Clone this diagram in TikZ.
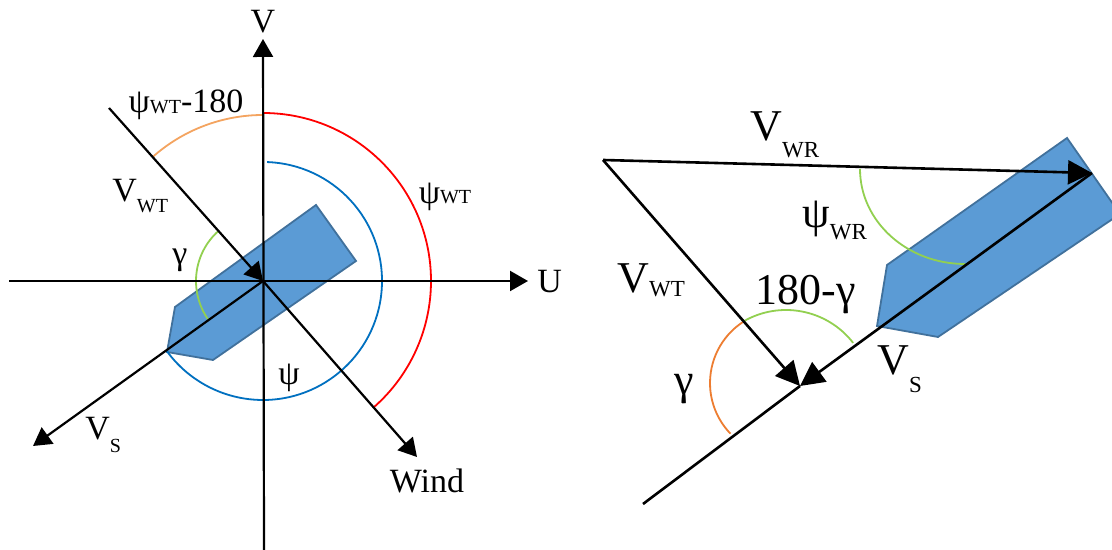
\documentclass[tikz,border=0pt]{standalone}
\usepackage{fontspec}
\setmainfont{Liberation Serif}
\usetikzlibrary{arrows.meta}
\definecolor{ink}{HTML}{000000}
\definecolor{hullfill}{HTML}{5B9BD5}
\definecolor{hulledge}{HTML}{41719C}
\definecolor{arcred}{HTML}{FF0000}
\definecolor{arcorange}{HTML}{F4A460}
\definecolor{arcorange2}{HTML}{ED7D31}
\definecolor{arcblue}{HTML}{0070C0}
\definecolor{arcgreen}{HTML}{92D050}
% lowered small subscript: depth, size, text
\newcommand{\dsub}[3]{\raisebox{-#1pt}{\fontsize{#2}{#2}\selectfont #3}}

\begin{document}
\begin{tikzpicture}[x=0.5pt, y=0.5pt,
    every node/.style={text=ink},
    axis/.style={ink, line width=1.1pt, -{Triangle[length=9pt, width=10pt]}},
    vec/.style={ink, line width=1.1pt, -{Triangle[length=9pt, width=10pt]}},
    bigvec/.style={ink, line width=1.3pt, -{Triangle[length=12pt, width=12pt]}},
    hull/.style={fill=hullfill, draw=hulledge, line width=0.9pt, line join=miter},
    arcsty/.style={line width=0.9pt},
    lbl/.style={font=\fontsize{17}{20}\selectfont, inner sep=0pt, anchor=base},
    biglbl/.style={font=\fontsize{22}{26}\selectfont, inner sep=0pt, anchor=base}
]

% ---------------- canvas 1112 x 550, white ----------------
\fill[white] (0,0) rectangle (1112,550);
\clip (0,0) rectangle (1112,550);

% ================= left: ship frame U-V =================
\coordinate (O) at (263,269);
\coordinate (vbot) at (264,0);
\coordinate (vtop) at (263,511);
\coordinate (uleft) at (9,269);
\coordinate (utip) at (528,269);
\coordinate (wtstart) at (109,442);
\coordinate (windtip) at (417,93);
\coordinate (vstip) at (33,104);

% hull
\draw[hull] (167,198) -- (175,243) -- (316,345) -- (356,289) -- (213,190) -- cycle;

% angle arcs
\draw[arcsty, arcred] (O) ++(90:168) arc[start angle=90, end angle=-48.5, radius=168];
\draw[arcsty, arcorange] (O) ++(90:166) arc[start angle=90, end angle=131.5, radius=166];
\draw[arcsty, arcblue] (O) ++(88:119) arc[start angle=88, end angle=-144, radius=119];
\draw[arcsty, arcgreen] (O) ++(131.5:67) arc[start angle=131.5, end angle=215.7, radius=67];

% axes and vectors
\draw[axis] (vbot) -- (vtop);
\draw[axis] (uleft) -- (utip);
\draw[vec] (wtstart) -- (O);
\draw[vec] (O) -- (windtip);
\draw[vec] (O) -- (vstip);

% labels
\node[lbl] (lV) at (263,517) {V};
\node[lbl, anchor=base west] (lU) at (537,257) {U};
\node[lbl] (lpsiwt180) at (186,437) {ψ\dsub{0.5}{10}{WT}-180};
\node[lbl] (lpsiwt) at (445,346) {ψ\dsub{0}{10}{WT}};
\node[lbl, anchor=base west] (lvwt) at (112,348) {V\dsub{5.5}{10}{WT}};
\node[lbl] (lgam) at (180,285) {γ};
\node[lbl] (lpsi) at (289,165) {ψ};
\node[lbl, anchor=base west] (lvs) at (85,110) {V\dsub{6.5}{10}{S}};
\node[lbl] (lwind) at (427,57) {Wind};

% ================= right: velocity triangle =================
\coordinate (A) at (603,390);
\coordinate (B) at (1092,377);
\coordinate (M) at (800,164);
\coordinate (lend) at (643,46);
\coordinate (Cg) at (786,155);
\coordinate (Co) at (783,167);

% hull, bow at lower left
\draw[hull] (877,224) -- (887,285) -- (1067,412) -- (1120,336) -- (938,213) -- cycle;

% angle arcs
\draw[arcsty, arcgreen] (860,381) arc[start angle=180, end angle=270, x radius=105, y radius=95];
\draw[arcsty, arcgreen] (Cg) ++(37.8:85) arc[start angle=37.8, end angle=120.5, radius=85];
\draw[arcsty, arcorange2] (Co) ++(123.3:73) arc[start angle=123.3, end angle=223.9, radius=73];

% vectors
\draw[bigvec] (A) -- (B);
\draw[bigvec] (A) -- (M);
\draw[bigvec] (B) -- (M);
\draw[ink, line width=1.3pt] (M) -- (lend);

% labels
\node[biglbl, anchor=base west] (rvwr) at (750,409) {V\dsub{8.5}{11.5}{WR}};
\node[biglbl, anchor=base west] (rpsiwr) at (802,322) {ψ\dsub{6}{11.5}{WR}};
\node[biglbl, anchor=base west] (rvwt) at (617,257) {V\dsub{2}{11.5}{WT}};
\node[biglbl] (r180) at (806,245) {180-γ};
\node[biglbl, anchor=base west] (rvs) at (877,175) {V\dsub{9}{11.5}{S}};
\node[biglbl] (rgam) at (684,155) {γ};

\end{tikzpicture}
\end{document}
